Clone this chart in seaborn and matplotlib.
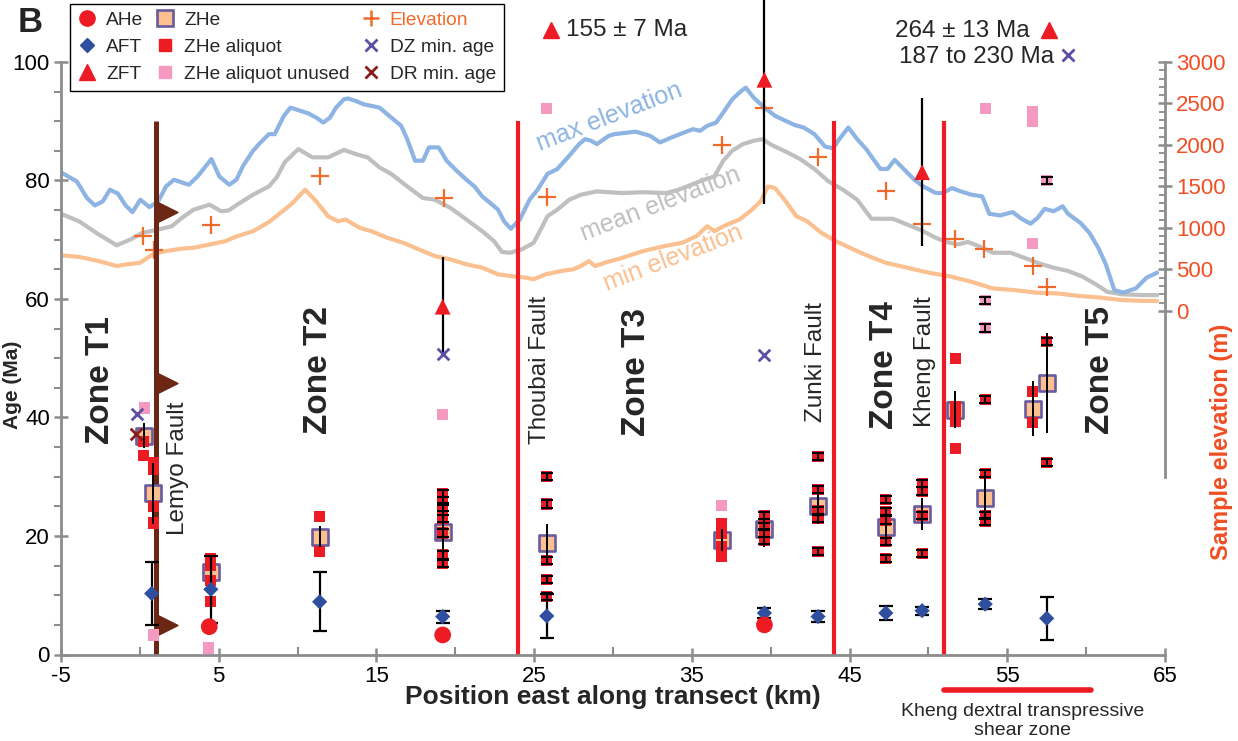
import matplotlib
matplotlib.use("Agg")
import matplotlib.pyplot as plt
from matplotlib.lines import Line2D
from matplotlib.path import Path
import seaborn as sns

# ---------------- swath topography (km east, elevation m) ----------------
max_km = [-5.0, -4.0, -3.35, -2.85, -2.35, -1.9, -1.4, -0.9, -0.47, 0.03,
          0.61, 1.16, 1.66, 2.16, 3.11, 3.66, 4.54, 5.04, 5.67, 6.12,
          6.55, 7.18, 7.55, 8.18, 8.55, 9.13, 9.55, 10.68, 11.18, 11.63,
          12.06, 12.44, 12.94, 13.19, 13.69, 14.19, 15.19, 15.94, 16.57, 16.95,
          17.45, 17.95, 18.33, 18.95, 19.45, 20.08, 20.71, 21.21, 21.71, 22.34,
          22.71, 23.09, 23.52, 24.09, 24.71, 25.22, 25.84, 26.47, 27.23, 27.85,
          28.23, 28.61, 28.98, 29.73, 30.09, 31.44, 32.35, 32.98, 33.71, 34.38,
          35.07, 35.52, 35.97, 36.54, 36.99, 37.56, 38.13, 38.42, 38.92, 39.60,
          40.28, 40.95, 41.52, 42.09, 42.77, 43.45, 43.95, 44.35, 44.92, 45.48,
          46.05, 46.50, 46.96, 47.41, 47.86, 48.43, 49.11, 49.67, 50.47, 50.92,
          51.49, 52.05, 52.73, 53.41, 53.86, 54.54, 55.34, 55.90, 56.47, 56.92,
          57.37, 57.94, 58.51, 58.85, 59.64, 60.21, 60.77, 61.23, 61.79, 62.35,
          63.15, 63.83, 64.50]
max_elev = [1670, 1560, 1360, 1270, 1320, 1460, 1415, 1270, 1190, 1340,
            1250, 1320, 1500, 1580, 1520, 1620, 1830, 1620, 1520, 1580,
            1750, 1930, 2010, 2130, 2130, 2350, 2450, 2380, 2330, 2270,
            2330, 2450, 2550, 2560, 2530, 2490, 2450, 2330, 2230, 2070,
            1810, 1810, 1970, 1970, 1810, 1690, 1580, 1500, 1380, 1280,
            1220, 1080, 990, 1100, 1340, 1460, 1650, 1710, 1870, 2010,
            2070, 2050, 2010, 2110, 2130, 2160, 2110, 2030, 2090, 2140,
            2190, 2170, 2230, 2270, 2390, 2550, 2650, 2690, 2570, 2450,
            2350, 2290, 2240, 2210, 2130, 1980, 1960, 2070, 2210, 2070,
            1950, 1830, 1710, 1710, 1820, 1710, 1580, 1500, 1420, 1420,
            1480, 1440, 1400, 1380, 1170, 1150, 1190, 1110, 1050, 1120,
            1230, 1200, 1260, 1170, 1060, 940, 760, 570, 250, 220,
            270, 400, 460]

mean_km = [-5.0, -3.86, -2.60, -1.47, -0.60, 0.16, 1.16, 2.03, 2.66, 3.41,
           4.42, 5.16, 5.62, 6.17, 7.18, 8.18, 8.68, 9.18, 10.05, 10.94,
           11.94, 12.94, 13.69, 14.44, 15.19, 15.94, 16.95, 17.95, 18.70, 19.70,
           20.71, 21.71, 22.46, 22.96, 23.47, 24.21, 24.97, 25.47, 25.84, 26.47,
           27.23, 27.97, 28.98, 30.54, 31.90, 33.37, 34.16, 34.84, 35.75, 36.43,
           36.99, 37.56, 38.24, 38.92, 39.48, 40.05, 40.95, 41.86, 42.77, 43.67,
           44.58, 45.48, 46.39, 47.75, 48.65, 49.56, 50.47, 51.15, 51.82, 52.51,
           53.19, 54.09, 55.22, 56.36, 57.03, 57.94, 58.85, 59.75, 60.66, 61.33,
           62.24, 63.61, 64.50]
mean_elev = [1170, 1080, 920, 790, 860, 940, 980, 1020, 1120, 1220,
             1280, 1200, 1210, 1280, 1400, 1500, 1610, 1790, 1950, 1850,
             1850, 1940, 1890, 1850, 1730, 1650, 1500, 1360, 1340, 1240,
             1100, 960, 840, 710, 700, 740, 820, 1000, 1140, 1220,
             1340, 1400, 1440, 1420, 1430, 1420, 1460, 1510, 1580, 1620,
             1810, 1930, 2010, 2050, 2070, 2000, 1920, 1830, 1710, 1560,
             1460, 1340, 1110, 1110, 1040, 970, 880, 830, 800, 830,
             780, 700, 700, 620, 570, 520, 480, 415, 315, 230,
             200, 190, 190]

min_km = [-5.0, -3.86, -2.60, -1.47, -0.85, 0.03, 0.40, 0.91, 1.66, 2.66,
          3.41, 4.42, 5.42, 6.17, 7.18, 8.18, 9.18, 9.68, 10.48, 11.18,
          11.94, 12.56, 13.06, 13.94, 14.69, 15.70, 16.70, 17.70, 18.70, 19.70,
          20.71, 21.71, 22.71, 23.71, 24.47, 24.97, 25.72, 26.72, 27.47, 27.97,
          28.47, 28.86, 29.48, 30.43, 31.90, 33.26, 34.38, 35.29, 35.97, 36.43,
          37.11, 38.01, 38.69, 39.37, 39.83, 40.28, 40.95, 41.63, 42.31, 43.22,
          44.12, 45.03, 45.94, 47.29, 48.65, 50.02, 51.37, 52.73, 54.09, 55.45,
          56.81, 58.16, 59.53, 60.89, 62.24, 63.61, 64.50]
min_elev = [670, 650, 600, 540, 560, 580, 630, 690, 720, 750,
            760, 800, 840, 900, 960, 1070, 1220, 1300, 1460, 1320,
            1140, 1080, 1100, 1000, 960, 880, 820, 740, 660, 620,
            560, 520, 440, 415, 400, 380, 440, 480, 500, 540,
            600, 540, 580, 630, 720, 780, 820, 900, 1020, 960,
            1030, 1100, 1200, 1320, 1500, 1480, 1320, 1140, 1080, 940,
            840, 760, 680, 580, 520, 460, 415, 350, 270, 250,
            220, 210, 180, 160, 130, 120, 120]

# ---------------- sample elevations ----------------
sample_km = [0.2, 0.9, 4.5, 11.4, 19.3, 25.8, 36.9, 39.6, 43.0, 47.3,
             49.6, 51.7, 53.5, 56.6, 57.5]
sample_elev = [900, 730, 1040, 1630, 1360, 1370, 2000, 2440, 1850, 1450,
               1050, 870, 750, 540, 290]

# ---------------- thermochronology ages (Ma) ----------------
ahe_km = [4.4, 19.2, 39.6]
ahe_age = [4.7, 3.3, 5.0]

aft_km = [0.75, 4.5, 11.4, 19.2, 25.8, 39.6, 43.0, 47.3, 49.6, 53.6, 57.5]
aft_age = [10.3, 11.0, 8.9, 6.4, 6.5, 7.0, 6.4, 7.0, 7.4, 8.5, 6.1]
aft_err = [5.3, 5.6, 5.0, 1.0, 3.7, 0.9, 0.9, 1.2, 0.7, 0.9, 3.6]

zft_km = [19.2, 39.6, 49.6]
zft_age = [58.7, 97.0, 81.4]
zft_err = [8.4, 21.0, 12.5]

zhe_km = [0.25, 0.85, 4.5, 11.4, 19.2, 25.8, 36.9, 39.6, 43.0, 47.3,
          49.6, 51.7, 53.6, 56.6, 57.5]
zhe_age = [36.9, 27.2, 14.0, 19.9, 20.7, 18.8, 19.3, 21.1, 25.1, 21.5,
           23.7, 41.3, 26.4, 41.5, 45.8]
zhe_err = [2.1, 5.2, 2.5, 1.8, 3.5, 3.2, 1.8, 3.0, 3.1, 2.2,
           2.7, 3.1, 4.1, 4.6, 8.5]

aliq_km = [0.25, 0.25,
           0.85, 0.85, 0.85, 0.85,
           4.5, 4.5, 4.5, 4.5,
           11.4, 11.4,
           19.2, 19.2, 19.2, 19.2, 19.2, 19.2, 19.2,
           25.8, 25.8, 25.8, 25.8, 25.8,
           36.9, 36.9, 36.9, 36.9,
           39.6, 39.6, 39.6, 39.6,
           43.0, 43.0, 43.0, 43.0, 43.0,
           47.3, 47.3, 47.3, 47.3, 47.3,
           49.6, 49.6, 49.6, 49.6,
           51.7, 51.7, 51.7, 51.7, 51.7,
           53.6, 53.6, 53.6, 53.6,
           56.6, 56.6,
           57.5, 57.5]
aliq_age = [36.0, 33.6,
            32.4, 31.3, 25.0, 22.2,
            16.2, 15.0, 12.5, 8.9,
            23.3, 17.4,
            27.2, 25.9, 24.9, 23.0, 20.5, 16.8, 15.4,
            30.1, 25.4, 15.9, 12.6, 9.8,
            22.1, 20.5, 18.2, 16.5,
            23.5, 21.6, 20.5, 19.3,
            33.4, 27.8, 24.3, 23.0, 17.4,
            26.1, 24.1, 22.7, 19.0, 16.2,
            28.8, 27.6, 23.5, 17.0,
            50.0, 41.8, 40.7, 39.3, 34.8,
            43.0, 30.5, 23.5, 22.4,
            44.4, 39.1,
            52.8, 32.4]
aliq_err = [0, 0,
            0, 0, 0, 0,
            0, 0, 0, 0,
            0, 0,
            0.6, 0.6, 0.6, 0.6, 0.6, 0.6, 0.6,
            0.6, 0.6, 0.6, 0.6, 0.6,
            0, 0, 0, 0,
            0.6, 0.6, 0.6, 0.6,
            0.6, 0.6, 0.6, 0.6, 0.6,
            0.6, 0.6, 0.6, 0.6, 0.6,
            0.6, 0.6, 0.6, 0.6,
            0, 0, 0, 0, 0,
            0.6, 0.6, 0.6, 0.6,
            0, 0,
            0.6, 0.6]

unused_km = [0.3, 0.85, 4.35, 19.2, 25.8, 36.9, 53.6, 53.6, 53.6, 56.6, 56.6, 56.6, 57.5]
unused_age = [41.6, 3.3, 1.1, 40.5, 92.2, 25.2, 92.2, 59.8, 55.1, 91.6, 90.0, 69.3, 80.0]
unused_err = [0, 0, 0, 0, 0, 0, 0, 0.6, 0.6, 0, 0, 0, 0.6]

dz_km = [-0.15, 19.2, 39.6]
dz_age = [40.6, 50.7, 50.6]
dr_km = [-0.25]
dr_age = [37.2]

# ---------------- structures ----------------
thrust_km = 1.0
thrust_teeth_age = [74.7, 45.8, 5.0]
fault_km = [24.0, 44.0, 51.0]
fault_top = 90
shear_zone_km = [51.0, 60.3]

zone_names = ["Zone T1", "Zone T2", "Zone T3", "Zone T4", "Zone T5"]
zone_km = [-2.5, 11.3, 31.5, 47.2, 60.9]
zone_y = [46.3, 48.0, 47.7, 48.9, 48.0]
fault_names = ["Lemyo Fault", "Thoubai Fault", "Zunki Fault", "Kheng Fault"]
fault_label_km = [2.4, 25.4, 42.9, 49.8]
fault_label_y = [31.5, 48.0, 49.4, 49.5]

# ---------------- styling ----------------
RED = "#ed1c24"
BLUE = "#2d4f9e"
PINK = "#f49ac1"
ZHE_FACE = "#fac090"
ZHE_EDGE = "#6a5a9e"
PURPLE = "#5f4ea5"
DARKRED = "#8b1c1c"
ELEV = "#f26a2a"
BROWN = "#6b2614"
AXGRAY = "#8c8c8c"
AXORANGE = "#f04e23"
C_MAX = "#8db4e2"
C_MEAN = "#bfbfbf"
C_MIN = "#fac090"

sns.set_theme(style="white")
plt.rcParams["font.family"] = ["Liberation Sans", "DejaVu Sans"]
plt.rcParams["axes.unicode_minus"] = False

fig = plt.figure(figsize=(12.38, 7.41), dpi=100)
ax = fig.add_axes([61 / 1238, 86.5 / 741, 1104 / 1238, 654.5 / 741])
ax2 = ax.twinx()
ax.set_zorder(ax2.get_zorder() + 1)
ax.patch.set_visible(False)

AGE_TOP = 110.46
ax.set_xlim(-5, 65)
ax.set_ylim(0, AGE_TOP)
m_per_ma = 3000 / (100 - 58)
ax2.set_ylim((0 - 58) * m_per_ma, (AGE_TOP - 58) * m_per_ma)

# swath profiles on the elevation axis
for xs, ys, c in [(min_km, min_elev, C_MIN), (mean_km, mean_elev, C_MEAN),
                  (max_km, max_elev, C_MAX)]:
    sns.lineplot(x=xs, y=ys, ax=ax2, color=c, linewidth=3.0, sort=False,
                 estimator=None, legend=False)
sns.scatterplot(x=sample_km, y=sample_elev, ax=ax2, marker="+", s=160,
                color=ELEV, linewidth=1.6, legend=False, zorder=5)

ax2.text(29.8, 2335, "max elevation", color=C_MAX, fontsize=18, rotation=21,
         ha="center", va="center")
ax2.text(33.0, 1283, "mean elevation", color=C_MEAN, fontsize=18, rotation=21,
         ha="center", va="center")
ax2.text(33.8, 641, "min elevation", color=C_MIN, fontsize=18, rotation=21,
         ha="center", va="center")

# faults
ax.plot([thrust_km, thrust_km], [0, fault_top], color=BROWN, lw=3.6,
        solid_capstyle="butt", zorder=2)
tooth = Path([(0, -1), (0, 1), (2, 0), (0, -1)],
             [Path.MOVETO, Path.LINETO, Path.LINETO, Path.CLOSEPOLY])
ax.plot([thrust_km] * len(thrust_teeth_age), thrust_teeth_age, ls="none",
        marker=tooth, ms=31, color=BROWN, mec=BROWN, zorder=2)
for fx in fault_km:
    ax.plot([fx, fx], [0, fault_top], color=RED, lw=3.0,
            solid_capstyle="butt", zorder=2)

# ZHe means
sns.scatterplot(x=zhe_km, y=zhe_age, ax=ax, marker="s", s=135, color=ZHE_FACE,
                edgecolor=ZHE_EDGE, linewidth=1.9, legend=False, zorder=3)
# aliquots
sns.scatterplot(x=unused_km, y=unused_age, ax=ax, marker="s", s=64, color=PINK,
                edgecolor="none", linewidth=0, legend=False, zorder=4)
sns.scatterplot(x=aliq_km, y=aliq_age, ax=ax, marker="s", s=64, color=RED,
                edgecolor="none", linewidth=0, legend=False, zorder=4)

# error bars
ax.errorbar(zhe_km, zhe_age, yerr=zhe_err, fmt="none", ecolor="black",
            elinewidth=1.4, capsize=0, zorder=5)
ax.errorbar(aft_km, aft_age, yerr=aft_err, fmt="none", ecolor="black",
            elinewidth=1.6, capsize=5, capthick=1.6, zorder=5)
ax.errorbar(zft_km, zft_age, yerr=zft_err, fmt="none", ecolor="black",
            elinewidth=1.6, capsize=0, zorder=5)
ek = [k for k, e in zip(aliq_km, aliq_err) if e > 0]
ea = [a for a, e in zip(aliq_age, aliq_err) if e > 0]
ee = [e for e in aliq_err if e > 0]
ax.errorbar(ek, ea, yerr=ee, fmt="none", ecolor="black", elinewidth=1.5,
            capsize=4, capthick=1.5, zorder=5)
uk = [k for k, e in zip(unused_km, unused_err) if e > 0]
ua = [a for a, e in zip(unused_age, unused_err) if e > 0]
ue = [e for e in unused_err if e > 0]
ax.errorbar(uk, ua, yerr=ue, fmt="none", ecolor="black", elinewidth=1.5,
            capsize=4, capthick=1.5, zorder=5)

# single-grain and min-age markers
sns.scatterplot(x=aft_km, y=aft_age, ax=ax, marker="D", s=60, color=BLUE,
                edgecolor="none", linewidth=0, legend=False, zorder=6)
sns.scatterplot(x=ahe_km, y=ahe_age, ax=ax, marker="o", s=145, color=RED,
                edgecolor="none", linewidth=0, legend=False, zorder=6)
sns.scatterplot(x=zft_km, y=zft_age, ax=ax, marker="^", s=130, color=RED,
                edgecolor="none", linewidth=0, legend=False, zorder=6)
sns.scatterplot(x=dz_km, y=dz_age, ax=ax, marker="x", s=70, color=PURPLE,
                linewidth=2.0, legend=False, zorder=6)
sns.scatterplot(x=dr_km, y=dr_age, ax=ax, marker="x", s=70, color=DARKRED,
                linewidth=2.0, legend=False, zorder=6)

# off-scale ages noted at the top
ax.plot([26.1], [105.4], ls="none", marker="^", ms=11, color=RED, clip_on=False)
ax.text(27.0, 105.4, "155 ± 7 Ma", fontsize=17.5, va="center", ha="left")
ax.text(56.4, 105.3, "264 ± 13 Ma", fontsize=17.5, va="center", ha="right")
ax.plot([57.65], [105.4], ls="none", marker="^", ms=11, color=RED, clip_on=False)
ax.text(58.0, 100.8, "187 to 230 Ma", fontsize=17.5, va="center", ha="right")
ax.plot([58.85], [101.2], ls="none", marker="x", ms=8, mew=2.0, color=PURPLE,
        clip_on=False)

# zone and fault labels
for name, xk, yk in zip(zone_names, zone_km, zone_y):
    ax.text(xk, yk, name, rotation=90, fontsize=24, fontweight="bold",
            ha="center", va="center")
for name, xk, yk in zip(fault_names, fault_label_km, fault_label_y):
    ax.text(xk, yk, name, rotation=90, fontsize=17.5, ha="center", va="center")

# shear zone bar under the axis
ax.plot(shear_zone_km, [-6.0, -6.0], color=RED, lw=4, solid_capstyle="round",
        clip_on=False)
ax.text(sum(shear_zone_km) / 2 + 0.3, -11.2,
        "Kheng dextral transpressive\nshear zone", fontsize=14,
        ha="center", va="center", linespacing=1.15)

# ---------------- axes ----------------
for s in ["top", "right"]:
    ax.spines[s].set_visible(False)
for s in ["top", "left", "bottom"]:
    ax2.spines[s].set_visible(False)
ax.spines["left"].set_bounds(0, 100)
ax2.spines["right"].set_bounds(-2000, 3000)
for sp in [ax.spines["left"], ax.spines["bottom"], ax2.spines["right"]]:
    sp.set_color(AXGRAY)
    sp.set_linewidth(2.0)

ax.set_xticks(range(-5, 66, 10))
ax.set_xticks(range(0, 61, 10), minor=True)
ax.set_yticks(range(0, 101, 20))
ax.set_yticks(range(0, 101, 5), minor=True)
ax.tick_params(axis="both", which="major", direction="inout", length=10,
               width=1.8, color=AXGRAY, labelsize=16, labelcolor="black",
               bottom=True, left=True, pad=3)
ax.tick_params(axis="x", which="minor", direction="in", length=6, width=1.5,
               color=AXGRAY, bottom=True)
ax.tick_params(axis="y", which="minor", direction="out", length=5, width=1.5,
               color=AXGRAY, left=True)

ax2.set_yticks(range(0, 3001, 500))
ax2.set_yticks(range(0, 3001, 100), minor=True)
ax2.tick_params(axis="y", which="major", direction="inout", length=10,
                width=1.8, color=AXGRAY, labelsize=16, labelcolor=AXORANGE,
                right=True, pad=3)
ax2.tick_params(axis="y", which="minor", direction="in", length=4, width=1.3,
                color=AXGRAY, right=True)

ax.set_xlabel("Position east along transect (km)", fontsize=19,
              fontweight="bold")
ax.xaxis.set_label_coords(0.5, -0.065)
ax.xaxis.label.set_va("center")
ax.set_ylabel("Age (Ma)", fontsize=15, fontweight="bold")
ax.yaxis.set_label_coords(-0.0435, 0.412)
ax.yaxis.label.set_va("center")
ax2.set_ylabel("Sample elevation (m)", fontsize=17, fontweight="bold",
               color=AXORANGE, rotation=90)
ax2.yaxis.set_label_position("right")
ax2.yaxis.set_label_coords(1.0516, 0.325)
ax2.yaxis.label.set_va("center")

# ---------------- legend ----------------
handles = [
    Line2D([], [], ls="none", marker="o", ms=11, color=RED),
    Line2D([], [], ls="none", marker="D", ms=7.5, color=BLUE),
    Line2D([], [], ls="none", marker="^", ms=11, color=RED),
    Line2D([], [], ls="none", marker="s", ms=11, mfc=ZHE_FACE, mec=ZHE_EDGE, mew=1.9),
    Line2D([], [], ls="none", marker="s", ms=8, color=RED),
    Line2D([], [], ls="none", marker="s", ms=8, color=PINK),
    Line2D([], [], ls="none", marker="+", ms=12, mew=1.8, color=ELEV),
    Line2D([], [], ls="none", marker="x", ms=8, mew=2.0, color=PURPLE),
    Line2D([], [], ls="none", marker="x", ms=8, mew=2.0, color=DARKRED),
]
labels = ["AHe", "AFT", "ZFT", "ZHe", "ZHe aliquot", "ZHe aliquot unused",
          "Elevation", "DZ min. age", "DR min. age"]
leg = fig.legend(handles, labels, ncol=3, loc="upper left",
                 bbox_to_anchor=(70 / 1238, 1 - 4 / 741), frameon=True,
                 fancybox=False, edgecolor="black", framealpha=1,
                 fontsize=13.8, handlelength=1.0, handletextpad=0.5,
                 columnspacing=0.6, labelspacing=0.5, borderpad=0.4,
                 borderaxespad=0)
leg.get_frame().set_linewidth(1.0)
leg.get_texts()[6].set_color(ELEV)

fig.text(18 / 1238, 1 - 22 / 741, "B", fontsize=25, fontweight="bold",
         va="center", ha="left")

fig.savefig("out.png", dpi=100)
